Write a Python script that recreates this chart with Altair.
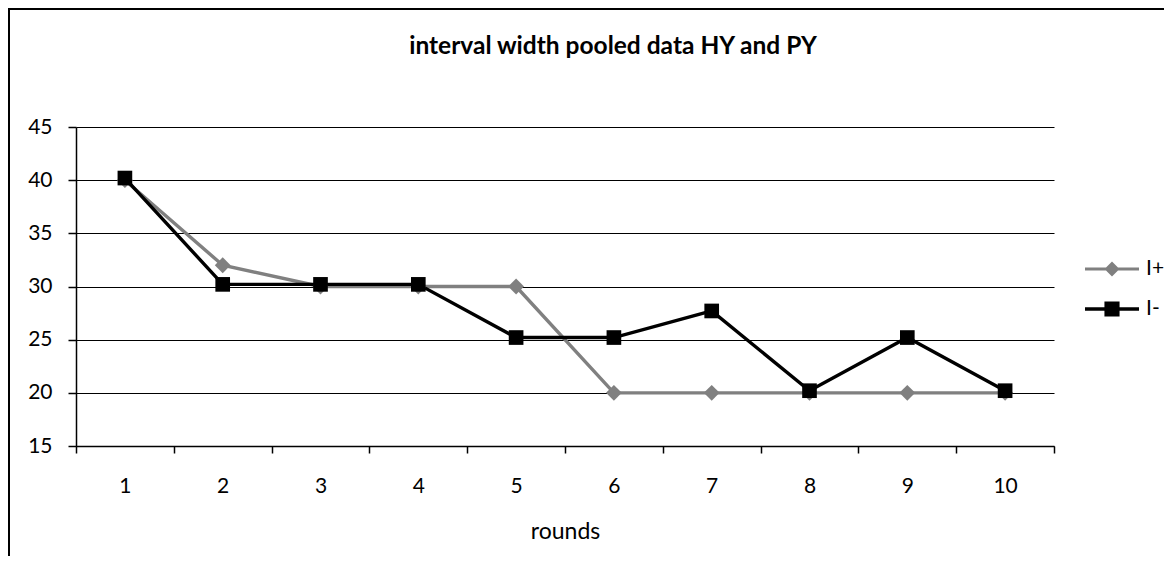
import altair as alt
import pandas as pd

TITLE = "interval width pooled data HY and PY"
X_TITLE = "rounds"
ROUNDS = ["1", "2", "3", "4", "5", "6", "7", "8", "9", "10"]
SERIES = ["I+", "I-"]
I_PLUS = [40, 32, 30, 30, 30, 20, 20, 20, 20, 20]
I_MINUS = [40.2, 30.2, 30.2, 30.2, 25.2, 25.2, 27.7, 20.2, 25.2, 20.2]
Y_TICKS = [15, 20, 25, 30, 35, 40, 45]
COLORS = ["#808080", "#000000"]
MARKERS = ["diamond", "square"]

rows = []
for r, a, b in zip(ROUNDS, I_PLUS, I_MINUS):
    rows.append({"round": r, "series": SERIES[0], "value": a})
    rows.append({"round": r, "series": SERIES[1], "value": b})
df = pd.DataFrame(rows)

FONT = "Lato"
W, H = 978, 319

PATH_DIAMOND = ("M-1,-0.056L-0.222,-0.056L0,-0.278L0.222,-0.056L1,-0.056"
                "L1,0.056L0.222,0.056L0,0.278L-0.222,0.056L-1,0.056Z")
PATH_SQUARE = ("M-1,-0.065L-0.28,-0.065L-0.28,-0.28L0.28,-0.28L0.28,-0.065L1,-0.065"
               "L1,0.065L0.28,0.065L0.28,0.28L-0.28,0.28L-0.28,0.065L-1,0.065Z")

x_enc = alt.X(
    "round:O",
    sort=ROUNDS,
    bandPosition=0.5,
    scale=alt.Scale(type="band", paddingInner=0, paddingOuter=0),
    axis=alt.Axis(
        title=X_TITLE, labelAngle=0, tickBand="extent", grid=False,
        tickSize=7, labelPadding=22, titleY=85, titleBaseline="middle",
        titleFontWeight="normal", titleFontSize=23, titleFont=FONT,
    ),
)
y_enc = alt.Y(
    "value:Q",
    scale=alt.Scale(domain=[15, 45], nice=False, zero=False),
    axis=alt.Axis(title=None, values=Y_TICKS, tickSize=8, labelPadding=16,
                  grid=True, gridColor="#000000", gridWidth=1),
)
color_scale = alt.Scale(domain=SERIES, range=COLORS)

legend = alt.Legend(
    title=None, orient="none", legendX=1009, legendY=115, padding=0,
    symbolSize=2916, labelFontSize=21, labelFont=FONT, labelColor="#000000",
    labelOffset=7, rowPadding=3, symbolOpacity=1, symbolStrokeWidth=0,
)

base = alt.Chart(df)

legend_layer = base.mark_point(filled=True, opacity=1, size=1).encode(
    x=x_enc, y=y_enc,
    color=alt.Color("series:N", scale=color_scale, sort=SERIES, legend=legend),
    shape=alt.Shape("series:N", sort=SERIES,
                    scale=alt.Scale(domain=SERIES, range=[PATH_DIAMOND, PATH_SQUARE]),
                    legend=legend),
)
lines = base.mark_line(strokeWidth=3.4).encode(
    x=x_enc, y=y_enc,
    color=alt.Color("series:N", scale=color_scale, sort=SERIES, legend=None),
    detail="series:N",
)
pts_plus = base.transform_filter(alt.datum.series == SERIES[0]).mark_point(
    filled=True, size=250, opacity=1, shape=MARKERS[0]).encode(
    x=x_enc, y=y_enc,
    color=alt.Color("series:N", scale=color_scale, sort=SERIES, legend=None),
)
pts_minus = base.transform_filter(alt.datum.series == SERIES[1]).mark_point(
    filled=True, size=215, opacity=1, shape=MARKERS[1]).encode(
    x=x_enc, y=y_enc,
    color=alt.Color("series:N", scale=color_scale, sort=SERIES, legend=None),
)

title_df = pd.DataFrame({"t": [TITLE]})
title = alt.Chart(title_df).mark_text(
    font=FONT, fontSize=24.5, fontWeight="bold", color="#000000",
    align="center", baseline="alphabetic",
).encode(x=alt.value(537), y=alt.value(-73), text="t:N")

one = pd.DataFrame({"k": [0]})
frame_top = alt.Chart(one).mark_rule(color="#000000", strokeWidth=2).encode(
    x=alt.value(-68), x2=alt.value(1200), y=alt.value(-118))
frame_left = alt.Chart(one).mark_rule(color="#000000", strokeWidth=2).encode(
    x=alt.value(-67), y=alt.value(-120), y2=alt.value(600))

chart = alt.layer(legend_layer, lines, pts_plus, pts_minus, title, frame_top, frame_left).properties(
    width=W, height=H,
    autosize=alt.AutoSizeParams(type="none"),
    padding={"left": 68, "top": 119, "right": 110, "bottom": 110},
    background="#ffffff",
).configure_view(stroke=None).configure_axis(
    domainColor="#000000", tickColor="#000000", labelColor="#000000",
    titleColor="#000000", labelFont=FONT, labelFontSize=21,
    domainWidth=1.5, tickWidth=1.5,
)

chart.save("out.html", embed_options={"renderer": "svg", "actions": False})
